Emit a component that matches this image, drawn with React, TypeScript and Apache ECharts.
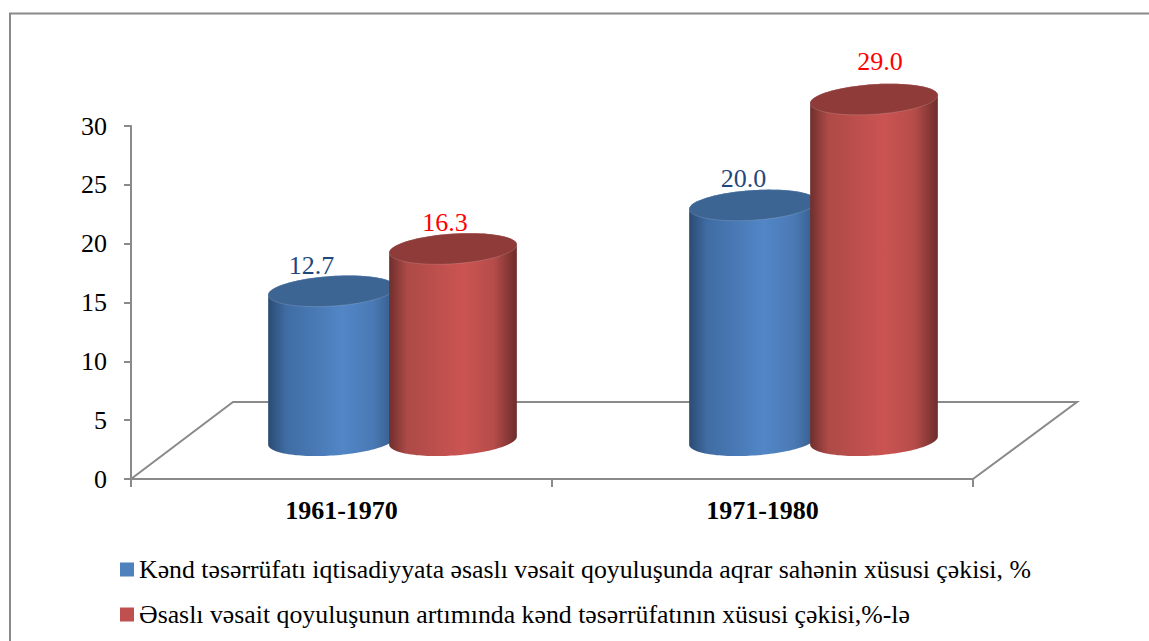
import React, { useEffect, useRef } from "react";
import * as echarts from "echarts";

const categories = ["1961-1970", "1971-1980"];
const seriesNames = [
  "Kənd təsərrüfatı iqtisadiyyata əsaslı vəsait qoyuluşunda aqrar sahənin xüsusi çəkisi, %",
  "Əsaslı vəsait qoyuluşunun artımında kənd təsərrüfatının xüsusi çəkisi,%-lə",
];
const agrarShare = [12.7, 20.0];
const growthShare = [16.3, 29.0];

const FONT = "'Liberation Serif', serif";
const AXIS_GREY = "#8a8a8a";
const DEPTH_X = 102;
const DEPTH_Y = 77;
const BAR_SHIFT = 60.5;
const RX = 64;
const RY = 15;
const TILT = (3.8 * Math.PI) / 180;

const blueStyle = {
  swatch: "#4f81bd",
  label: "#1f497d",
  cap: "#3c6594",
  stops: ["#2b4b73", "#3f6ca3", "#5286c6", "#4a7ab5", "#345a88"],
};
const redStyle = {
  swatch: "#c0504d",
  label: "#ff0000",
  cap: "#8e3b39",
  stops: ["#6f2f2d", "#ad4a47", "#cb5452", "#b54c49", "#6c2d2b"],
};

const labelNudge = [
  [
    [-20.5, -26],
    [-8, -26.5],
  ],
  [
    [-9.5, -27],
    [6, -38],
  ],
];

function ellipsePoint(cx: number, cy: number, t: number) {
  const ex = RX * Math.cos(t);
  const ey = RY * Math.sin(t);
  return [cx + ex * Math.cos(-TILT) - ey * Math.sin(-TILT), cy + ex * Math.sin(-TILT) + ey * Math.cos(-TILT)];
}

// parameter at which the tilted ellipse reaches its right-most x
const tRight = Math.atan2(-RY * Math.sin(TILT), RX * Math.cos(TILT));

function ellipsePoints(cx: number, cy: number) {
  const pts: number[][] = [];
  for (let i = 0; i < 96; i++) pts.push(ellipsePoint(cx, cy, (i / 96) * Math.PI * 2));
  return pts;
}

function bodyPoints(cx: number, top: number, base: number) {
  const pts: number[][] = [];
  // lower half of the base ellipse, right-most point to left-most point
  for (let i = 0; i <= 64; i++) pts.push(ellipsePoint(cx, base, tRight + (i / 64) * Math.PI));
  // then up the left edge and back along the upper half of the top ellipse
  for (let i = 0; i <= 64; i++) pts.push(ellipsePoint(cx, top, tRight + Math.PI + (i / 64) * Math.PI));
  return pts;
}

function cylinder(seriesIdx: number, look: typeof blueStyle) {
  return (params: any, api: any) => {
    const cat = api.value(0);
    const val = api.value(1);
    const top = api.coord([cat, val]);
    const base = api.coord([cat, 0]);
    const cx = top[0] + DEPTH_X / 2 + (seriesIdx === 0 ? -BAR_SHIFT : BAR_SHIFT);
    const topY = top[1] - DEPTH_Y / 2;
    const baseY = base[1] - DEPTH_Y / 2;
    const nudge = labelNudge[cat][seriesIdx];
    const body = new echarts.graphic.LinearGradient(0, 0, 1, 0, [
      { offset: 0, color: look.stops[0] },
      { offset: 0.14, color: look.stops[1] },
      { offset: 0.58, color: look.stops[2] },
      { offset: 0.82, color: look.stops[3] },
      { offset: 1, color: look.stops[4] },
    ]);
    return {
      type: "group",
      children: [
        {
          type: "polygon",
          shape: { points: bodyPoints(cx, topY, baseY) },
          style: { fill: body },
          silent: true,
        },
        {
          type: "polygon",
          shape: { points: ellipsePoints(cx, topY) },
          style: { fill: look.cap, stroke: "rgba(255,255,255,0.15)", lineWidth: 1 },
          silent: true,
        },
        {
          type: "text",
          x: cx + nudge[0],
          y: topY + nudge[1],
          style: {
            text: val.toFixed(1),
            font: `26px ${FONT}`,
            fill: look.label,
            align: "center",
            verticalAlign: "middle",
          },
          silent: true,
        },
      ],
    };
  };
}

function floor(params: any) {
  const g = params.coordSys;
  const bottom = g.y + g.height;
  return {
    type: "polyline",
    shape: {
      points: [
        [g.x, bottom],
        [g.x + DEPTH_X, bottom - DEPTH_Y],
        [g.x + g.width + DEPTH_X + 2, bottom - DEPTH_Y],
        [g.x + g.width, bottom],
      ],
    },
    style: { fill: "none", stroke: AXIS_GREY, lineWidth: 2 },
    silent: true,
  };
}

export default function App() {
  const ref = useRef<HTMLDivElement>(null);
  useEffect(() => {
    const chart = echarts.init(ref.current!, null, { renderer: "svg" });
    const toData = (vals: number[]) => vals.map((v, i) => [i, v]);
    chart.setOption({
      animation: false,
      backgroundColor: "#ffffff",
      textStyle: { fontFamily: FONT },
      graphic: [
        {
          type: "polyline",
          z: -10,
          shape: { points: [[10, 641], [10, 13.5], [1149, 13.5]] },
          style: { fill: "none", stroke: AXIS_GREY, lineWidth: 2 },
          silent: true,
        },
      ],
      grid: { left: 131, top: 126, width: 842, height: 353, containLabel: false },
      xAxis: {
        type: "category",
        data: categories,
        axisLine: { lineStyle: { color: AXIS_GREY, width: 2 } },
        axisTick: { show: true, length: 8, alignWithLabel: false, lineStyle: { color: AXIS_GREY, width: 2 } },
        axisLabel: { color: "#000", fontFamily: FONT, fontSize: 26, fontWeight: "bold", margin: 18 },
      },
      yAxis: {
        type: "value",
        min: 0,
        max: 30,
        interval: 5,
        splitLine: { show: false },
        axisLine: { show: true, lineStyle: { color: AXIS_GREY, width: 2 } },
        axisTick: { show: true, length: 7, lineStyle: { color: AXIS_GREY, width: 2 } },
        axisLabel: { color: "#000", fontFamily: FONT, fontSize: 26, margin: 24 },
      },
      legend: {
        left: 115,
        top: 550,
        orient: "vertical",
        itemWidth: 14,
        itemHeight: 14,
        itemGap: 16,
        icon: "rect",
        data: seriesNames,
        selectedMode: false,
        textStyle: { color: "#000", fontFamily: FONT, fontSize: 25.8, lineHeight: 29 },
      },
      series: [
        {
          type: "custom",
          name: "floor",
          z: 1,
          silent: true,
          clip: false,
          data: [[0, 0]],
          renderItem: floor,
        },
        {
          type: "custom",
          name: seriesNames[0],
          z: 2,
          clip: false,
          itemStyle: { color: blueStyle.swatch },
          data: toData(agrarShare),
          encode: { x: 0, y: 1 },
          renderItem: cylinder(0, blueStyle),
        },
        {
          type: "custom",
          name: seriesNames[1],
          z: 3,
          clip: false,
          itemStyle: { color: redStyle.swatch },
          data: toData(growthShare),
          encode: { x: 0, y: 1 },
          renderItem: cylinder(1, redStyle),
        },
      ],
    });
    return () => chart.dispose();
  }, []);
  return <div ref={ref} style={{ position: "fixed", left: 0, top: 0, width: 1149, height: 641 }} />;
}
